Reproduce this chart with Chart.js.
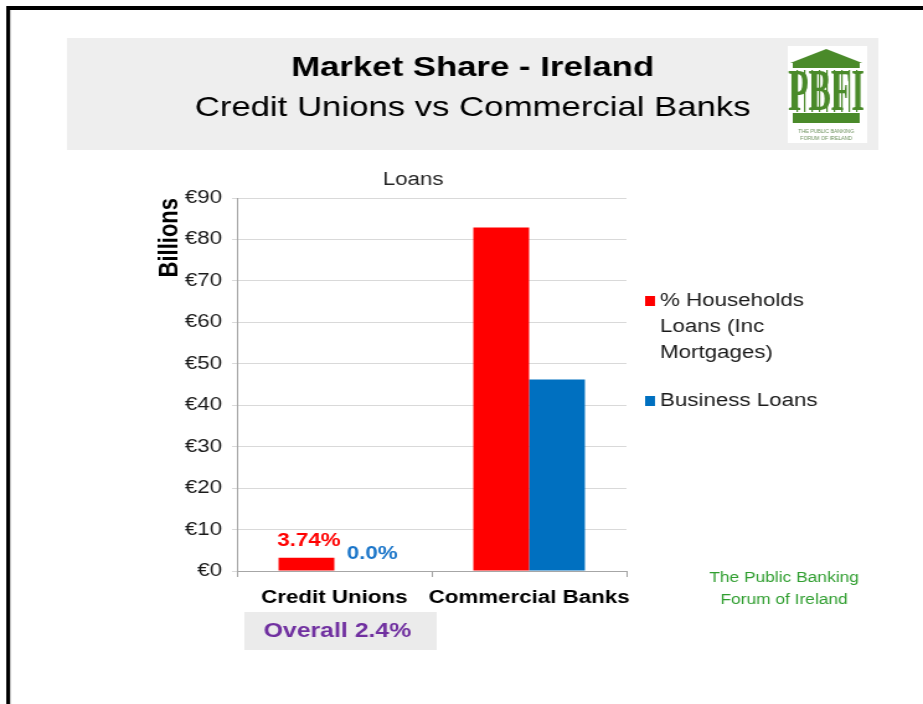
<!DOCTYPE html>
<html>
<head>
<meta charset="utf-8">
<title>Market Share - Ireland</title>
<script src="https://cdn.jsdelivr.net/npm/chart.js@4.4.1/dist/chart.umd.min.js"></script>
<style>
  html, body { margin: 0; padding: 0; background: #fff; overflow: hidden; }
  #slide { display: block; }
</style>
</head>
<body>
<!-- the slide is drawn 744 wide and shown stretched to 923 -->
<canvas id="slide" width="744" height="704" style="width:923px;height:704px"></canvas>
<script>
const categories = ['Credit Unions', 'Commercial Banks'];
const seriesNames = ['% Households Loans (Inc Mortgages)', 'Business Loans'];
const householdLoans = [3.2, 82.9];   // € billions
const businessLoans = [0, 46.2];
const householdShare = ['3.74%', null];
const businessShare = ['0.0%', null];
const yTicks = [0, 10, 20, 30, 40, 50, 60, 70, 80, 90];

const FONT = "'Liberation Sans', Arial, sans-serif";

function text(ctx, str, x, y, font, color, align) {
  ctx.font = font;
  ctx.fillStyle = color;
  ctx.textAlign = align || 'center';
  ctx.textBaseline = 'middle';
  ctx.fillText(str, x, y);
}

function drawLogo(ctx) {
  const green = '#4a8a2a';
  ctx.fillStyle = '#fff';
  ctx.fillRect(635, 46, 64, 97);
  // roof
  ctx.fillStyle = green;
  ctx.beginPath();
  ctx.moveTo(666, 49);
  ctx.lineTo(695, 63);
  ctx.lineTo(637, 63);
  ctx.closePath();
  ctx.fill();
  ctx.fillRect(639, 63, 54, 5);
  // columns behind the letters
  for (let cx = 642; cx < 692; cx += 6) ctx.fillRect(cx, 70, 1.2, 42);
  ctx.save();
  ctx.translate(666, 92);
  ctx.scale(0.45, 1);
  ctx.font = "bold 60px 'Liberation Serif', serif";
  ctx.fillStyle = green;
  ctx.textAlign = 'center';
  ctx.textBaseline = 'middle';
  ctx.fillText('PBFI', 0, 2);
  ctx.restore();
  ctx.fillRect(639, 113, 54, 10);
  ctx.save();
  ctx.translate(666, 0);
  ctx.scale(0.7, 1);
  text(ctx, 'THE PUBLIC BANKING', 0, 131, "6px " + FONT, '#6a8f5a');
  text(ctx, 'FORUM OF IRELAND', 0, 138, "6px " + FONT, '#6a8f5a');
  ctx.restore();
}

const slidePlugin = {
  id: 'slide',
  beforeDraw(chart) {
    const ctx = chart.ctx;
    ctx.save();
    ctx.fillStyle = '#fff';
    ctx.fillRect(0, 0, chart.width, chart.height);
    // frame
    ctx.fillStyle = '#000';
    ctx.fillRect(5, 6, chart.width, 4);
    ctx.fillRect(5, 6, 3.2, chart.height);
    // heading band
    ctx.fillStyle = '#eeeeee';
    ctx.fillRect(54, 38, 654, 112);
    text(ctx, 'Market Share - Ireland', 381, 68, "bold 28px " + FONT, '#000');
    text(ctx, 'Credit Unions vs Commercial Banks', 381, 108, "28px " + FONT, '#000');
    drawLogo(ctx);
    text(ctx, 'Loans', 333, 180, "18px " + FONT, '#262626');
    ctx.restore();
  },
  afterDatasetsDraw(chart) {
    const ctx = chart.ctx;
    ctx.save();
    chart.data.datasets.forEach((ds, i) => {
      chart.getDatasetMeta(i).data.forEach((bar, j) => {
        const s = ds.shares[j];
        if (s) text(ctx, s, bar.x + ds.shareShift, bar.y - 17, "bold 18px " + FONT, ds.shareColor);
      });
    });
    ctx.restore();
  },
  afterDraw(chart) {
    const ctx = chart.ctx;
    ctx.save();
    // legend, wrapped to the column on the right
    let y = 301;
    chart.data.datasets.forEach(ds => {
      ctx.font = "18px " + FONT;
      const lines = [];
      let line = '';
      ds.label.split(' ').forEach(w => {
        const t = line ? line + ' ' + w : w;
        if (line && ctx.measureText(t).width > 140) { lines.push(line); line = w; }
        else line = t;
      });
      lines.push(line);
      ctx.fillStyle = ds.backgroundColor;
      ctx.fillRect(520, y - 5, 8, 10);
      lines.forEach((l, k) => text(ctx, l, 532, y + k * 26, "18px " + FONT, '#1a1a1a', 'left'));
      y += lines.length * 26 + 22;
    });
    // overall share box
    ctx.fillStyle = '#ebebeb';
    ctx.fillRect(197, 612, 155, 38);
    text(ctx, 'Overall 2.4%', 272, 631, "bold 20px " + FONT, '#7030a0');
    // footer
    text(ctx, 'The Public Banking', 632, 578, "14px " + FONT, '#2f9e2f');
    text(ctx, 'Forum of Ireland', 632, 600, "14px " + FONT, '#2f9e2f');
    ctx.restore();
  }
};

new Chart(document.getElementById('slide'), {
  type: 'bar',
  data: {
    labels: categories,
    datasets: [
      { label: seriesNames[0], data: householdLoans, backgroundColor: '#ff0000', shares: householdShare, shareColor: '#ff0000', shareShift: 2 },
      { label: seriesNames[1], data: businessLoans, backgroundColor: '#0070c0', shares: businessShare, shareColor: '#1a75c9', shareShift: 8 }
    ]
  },
  options: {
    responsive: false,
    animation: false,
    layout: { padding: { left: 120, right: 239, top: 198, bottom: 93 } },
    datasets: { bar: { categoryPercentage: 0.573, barPercentage: 1 } },
    plugins: {
      legend: { display: false },
      title: { display: false },
      tooltip: { enabled: false }
    },
    scales: {
      x: {
        grid: { drawOnChartArea: false, drawTicks: true, tickLength: 6, color: '#a6a6a6' },
        border: { color: '#a6a6a6' },
        ticks: {
          color: '#000',
          font: { family: FONT, size: 18, weight: 'bold' },
          padding: 10,
          autoSkip: false,
          maxRotation: 0,
          minRotation: 0
        },
        afterFit: s => { s.height = 40; }
      },
      y: {
        min: 0,
        max: 90,
        afterBuildTicks: s => { s.ticks = yTicks.map(v => ({ value: v })); },
        grid: { color: '#d9d9d9', tickLength: 4 },
        border: { color: '#a6a6a6' },
        ticks: { color: '#1a1a1a', font: { family: FONT, size: 18 }, padding: 8, callback: v => '€' + v },
        title: {
          display: true,
          text: 'Billions',
          align: 'end',
          color: '#000',
          font: { family: FONT, size: 22, weight: 'bold' },
          padding: { top: 4, bottom: 4 }
        },
        afterFit: s => { s.width = 71; }
      }
    }
  },
  plugins: [slidePlugin]
});
</script>
</body>
</html>
